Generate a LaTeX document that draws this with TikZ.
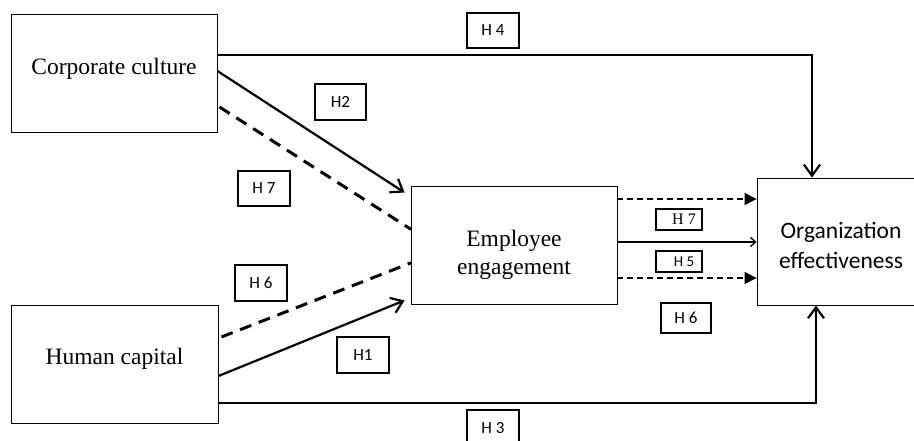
\documentclass[tikz,border=0pt]{standalone}
\usepackage{fontspec}
\setmainfont{Liberation Serif}
\newfontfamily\calfont{Carlito}
\usetikzlibrary{arrows.meta,calc}
\begin{document}
\begin{tikzpicture}[x=1pt,y=-1pt,
  mainbox/.style={draw,line width=0.9pt,inner sep=0pt,align=center,font=\fontsize{23.5}{28}\selectfont},
  hbox/.style={draw,line width=2.2pt,inner sep=0pt,font=\calfont\fontsize{17}{20}\selectfont},
  hsmall/.style={draw,line width=2pt,inner sep=0pt,font=\calfont\fontsize{15}{17}\selectfont},
  solidarrow/.style={line width=2.2pt,-{Straight Barb[length=11pt,width=16pt,line width=2.2pt]}},
  thickdash/.style={line width=3pt,dash pattern=on 12pt off 8pt},
  thindash/.style={line width=1.5pt,dash pattern=on 6pt off 4pt,-{Triangle[length=12pt,width=12pt]}},
  plain/.style={line width=2.2pt}]
\useasboundingbox (0,0) rectangle (914,441);
\clip (0,0) rectangle (914,441);
\fill[white] (0,0) rectangle (914,441);

% main boxes
\node[mainbox,minimum width=206pt,minimum height=118pt,text height=16pt,text depth=12pt] (cc) at (114,73) {Corporate culture};
\node[mainbox,minimum width=207pt,minimum height=118pt,text height=16pt,text depth=16pt] (hc) at (114.5,364) {Human capital};
\node[mainbox,minimum width=206pt,minimum height=118pt,text height=58pt,text depth=0pt] (ee) at (514,245) {Employee\\engagement};
\node[mainbox,minimum width=168pt,minimum height=127pt,text height=55pt,text depth=0pt,font=\calfont\fontsize{23.5}{30}\selectfont] (oe) at (841,241.5) {Organization\\effectiveness};

% label boxes
\node[hbox,minimum width=52pt,minimum height=35pt] (lh4) at (493,30.5) {H 4};
\node[hbox,minimum width=51pt,minimum height=36pt] (lh2) at (340.5,102) {H2};
\node[hbox,minimum width=52pt,minimum height=35pt] (lh7a) at (264,188.5) {H 7};
\node[hbox,minimum width=52pt,minimum height=36pt] (lh6a) at (261,283) {H 6};
\node[hbox,minimum width=52pt,minimum height=36pt] (lh1) at (363,355) {H1};
\node[hbox,minimum width=52pt,minimum height=36pt] (lh3) at (493,428) {H 3};
\node[hsmall,minimum width=46pt,minimum height=21pt,font=\fontsize{16}{18}\selectfont] (lh7b) at (679,219.5) {\hspace*{10pt}H 7};
\node[hsmall,minimum width=46pt,minimum height=21pt] (lh5) at (679,261.5) {\hspace*{10pt}H 5};
\node[hbox,minimum width=50pt,minimum height=30pt] (lh6b) at (686,318) {H 6};

% H4 and H3
\draw[solidarrow] ([yshift=18pt]cc.east) -| ([xshift=-29pt]oe.north);
\draw[solidarrow] ([yshift=-39pt]hc.east) -| ([xshift=-25pt]oe.south);

% H2 and H1
\draw[solidarrow] ([yshift=2pt]cc.east) -- ([shift={(-6pt,-7pt)}]ee.north west);
\draw[solidarrow] ([yshift=-12pt]hc.east) -- ([shift={(-6pt,4pt)}]ee.south west);

% dashed H7, H6
\draw[thickdash] ([shift={(2pt,-34pt)}]cc.east) -- ([yshift=16pt]ee.west);
\draw[thickdash] ([shift={(3pt,27pt)}]hc.east) -- ([yshift=-18pt]ee.west);
\fill ([yshift=16pt]ee.west) circle (1.5pt);
\fill ([yshift=-18pt]ee.west) circle (1.5pt);

% right connectors
\coordinate (r1) at ([yshift=46pt]ee.east);
\coordinate (r2) at ([yshift=3pt]ee.east);
\coordinate (r3) at ([yshift=-33pt]ee.east);
\draw[thindash] (r1) -- (r1 -| oe.west);
\draw[line width=1.5pt,-{Straight Barb[length=5pt,width=9pt,line width=1.4pt]}] (r2) -- (r2 -| oe.west);
\draw[thindash] (r3) -- (r3 -| oe.west);
\end{tikzpicture}
\end{document}
